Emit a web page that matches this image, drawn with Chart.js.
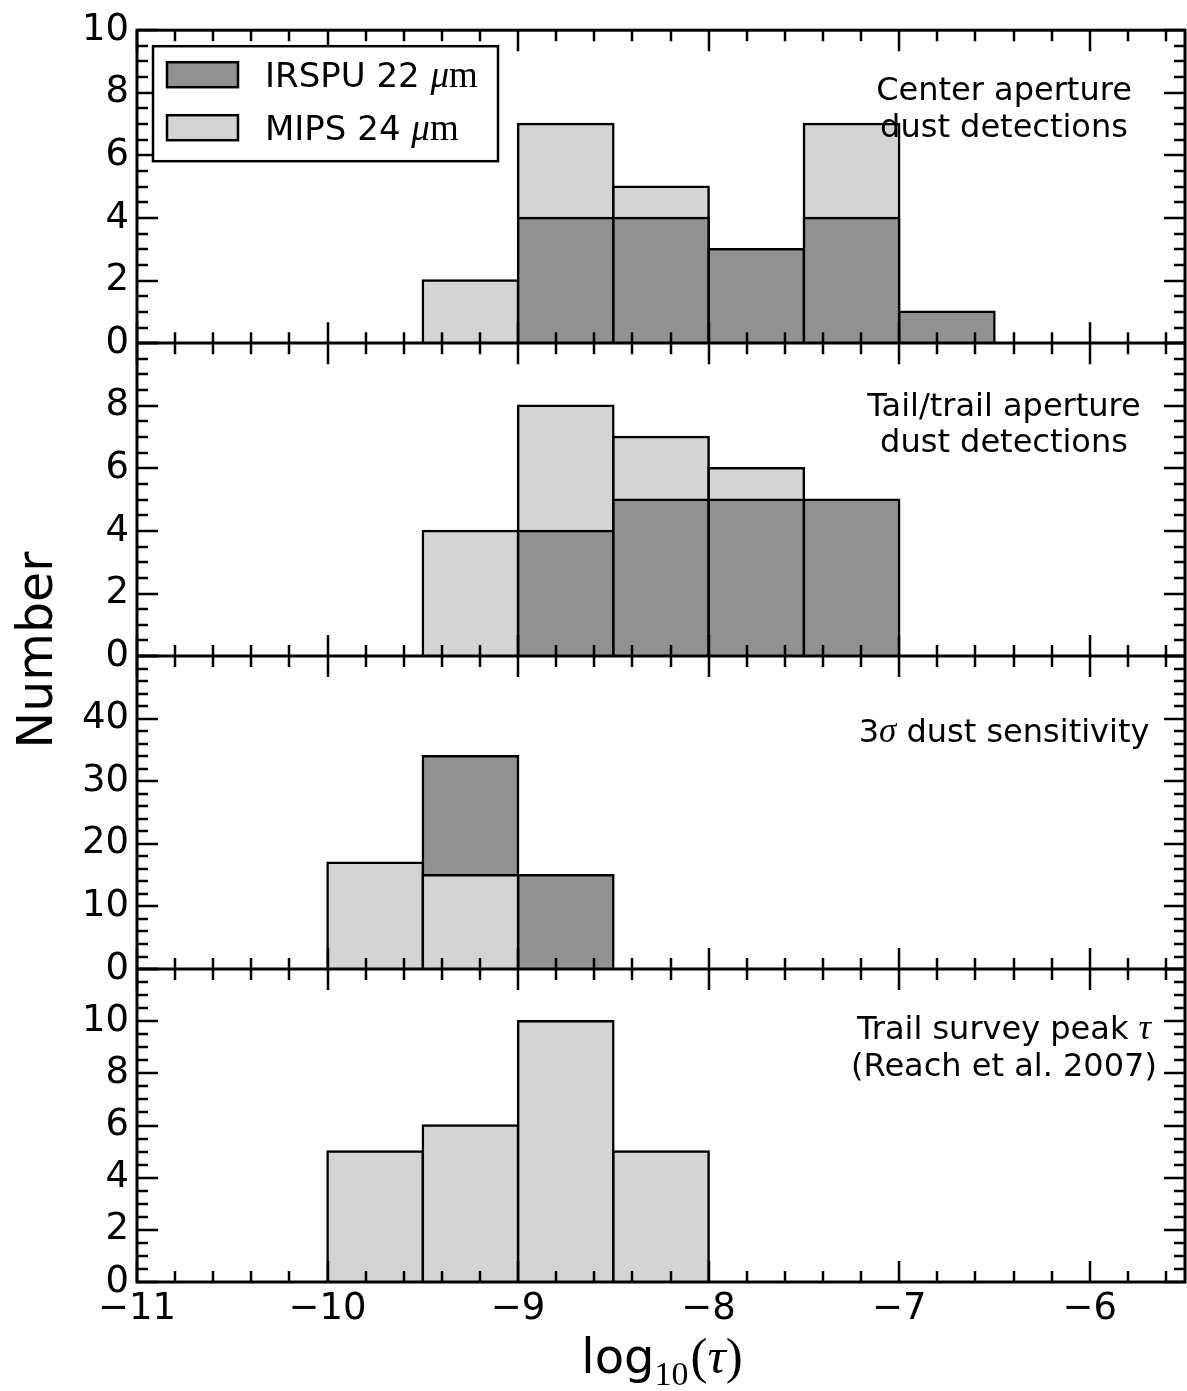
<!DOCTYPE html>
<html>
<head>
<meta charset="utf-8">
<script src="https://cdn.jsdelivr.net/npm/chart.js@4.4.1/dist/chart.umd.min.js"></script>
<style>
  html, body { margin: 0; padding: 0; background: #ffffff; }
  #wrap { position: relative; width: 1187px; height: 1391px; }
</style>
</head>
<body>
<div id="wrap"><canvas id="c" width="1187" height="1391"></canvas></div>
<script>
// ---------------- DATA ----------------
const binCenters   = [-9.75, -9.25, -8.75, -8.25, -7.75, -7.25, -6.75];
const centerIRSPU  = [null, null, 4, 4, 3, 4, 1];
const centerMIPS   = [null, 2, 7, 5, null, 7, null];
const tailIRSPU    = [null, null, 4, 5, 5, 5, null];
const tailMIPS     = [null, 4, 8, 7, 6, null, null];
const sensIRSPU    = [null, 34, 15, null, null, null, null];
const sensMIPS     = [17, 15, null, null, null, null, null];
const surveyMIPS   = [5, 6, 10, 5, null, null, null];
const seriesNames  = ['IRSPU 22 μm', 'MIPS 24 μm'];
const xRange       = [-11, -5.5];
const panelYMax    = [10, 10, 50, 12];
const panelYStep   = [2, 2, 10, 2];
const panelYMinor  = [0.5, 0.5, 2, 0.5];

// ---------------- STYLE ----------------
const DARK = '#919191';
const LIGHT = '#d4d4d4';
const SANS = '"DejaVu Sans"';
const SERIF = '"Liberation Serif"';
Chart.defaults.font.family = SANS;
Chart.defaults.color = '#000';

function toPoints(vals) {
  const out = [];
  vals.forEach((v, i) => { if (v !== null) out.push({x: binCenters[i], y: v}); });
  return out;
}
function fmt(v) { return v < 0 ? '\u2212' + Math.abs(v) : String(v); }

const barCommon = {
  grouped: false,
  categoryPercentage: 1,
  barPercentage: 1,
  borderColor: '#000',
  borderWidth: 2.5,
  inflateAmount: 1.25,
  borderSkipped: 'start',
  xAxisID: 'x'
};

const datasets = [
  Object.assign({}, barCommon, {label: seriesNames[0], data: toPoints(centerIRSPU), backgroundColor: DARK, yAxisID: 'yA', order: 0}),
  Object.assign({}, barCommon, {label: seriesNames[1], data: toPoints(centerMIPS), backgroundColor: LIGHT, yAxisID: 'yA', order: 1}),
  Object.assign({}, barCommon, {label: seriesNames[0], data: toPoints(tailIRSPU), backgroundColor: DARK, yAxisID: 'yB', order: 0}),
  Object.assign({}, barCommon, {label: seriesNames[1], data: toPoints(tailMIPS), backgroundColor: LIGHT, yAxisID: 'yB', order: 1}),
  Object.assign({}, barCommon, {label: seriesNames[0], data: toPoints(sensIRSPU), backgroundColor: DARK, yAxisID: 'yC', order: 1}),
  Object.assign({}, barCommon, {label: seriesNames[1], data: toPoints(sensMIPS), backgroundColor: LIGHT, yAxisID: 'yC', order: 0}),
  Object.assign({}, barCommon, {label: seriesNames[1], data: toPoints(surveyMIPS), backgroundColor: LIGHT, yAxisID: 'yD', order: 1})
];

function yScale(idx, hideTop) {
  const max = panelYMax[idx];
  return {
    type: 'linear', position: 'left', stack: 'panels', stackWeight: 1,
    min: 0, max: max, offset: false,
    grid: {display: false, drawTicks: false},
    border: {display: false},
    ticks: {
      stepSize: panelYStep[idx], autoSkip: false, padding: 8, color: '#000',
      font: {size: 37, family: SANS},
      callback: (v) => (hideTop && v === max) ? '' : String(v)
    },
    afterFit: (s) => { s.width = 137; }
  };
}

const panelIds = ['yA', 'yB', 'yC', 'yD'];

// panel annotation texts: runs of [text, fontKind]
const panelTexts = [
  {lines: [[['Center aperture', 's']], [['dust detections', 's']]], offs: [70, 107]},
  {lines: [[['Tail/trail aperture', 's']], [['dust detections', 's']]], offs: [73, 109]},
  {lines: [[['3', 's'], ['σ', 'mi'], [' dust sensitivity', 's']]], offs: [86]},
  {lines: [[['Trail survey peak ', 's'], ['τ', 'mi']], [['(Reach et al. 2007)', 's']]], offs: [70, 107]}
];

function fontFor(kind, size) {
  if (kind === 'mi') return 'italic ' + Math.round(size * 1.08) + 'px ' + SERIF;
  if (kind === 'mr') return Math.round(size * 1.08) + 'px ' + SERIF;
  return size + 'px ' + SANS;
}
function drawRuns(ctx, runs, x, y, size, align) {
  let total = 0;
  const widths = runs.map(r => { ctx.font = fontFor(r[1], size); const w = ctx.measureText(r[0]).width; total += w; return w; });
  let cx = align === 'left' ? x : x - total / 2;
  runs.forEach((r, i) => {
    ctx.font = fontFor(r[1], size);
    ctx.fillText(r[0], cx, y);
    cx += widths[i];
  });
}

const decor = {
  id: 'decor',
  afterDatasetsDraw(chart) {
    const ctx = chart.ctx;
    const xs = chart.scales.x;
    const ca = chart.chartArea;
    ctx.save();
    ctx.strokeStyle = '#000';
    ctx.fillStyle = '#000';
    ctx.lineCap = 'butt';
    const MAJ = 21, MIN = 11;

    panelIds.forEach((id, pi) => {
      const ys = chart.scales[id];
      const top = ys.top, bottom = ys.bottom;
      ctx.lineWidth = 2.5;
      // x ticks (top & bottom of each panel, pointing inward)
      for (let k = 0; ; k++) {
        const v = xRange[0] + k * 0.2;
        if (v > xs.max + 1e-9) break;
        const px = Math.round(xs.getPixelForValue(v));
        const major = Math.abs(v - Math.round(v)) < 1e-6;
        const L = major ? MAJ : MIN;
        ctx.beginPath();
        ctx.moveTo(px, top); ctx.lineTo(px, top + L);
        ctx.moveTo(px, bottom); ctx.lineTo(px, bottom - L);
        ctx.stroke();
      }
      // y ticks (left & right, pointing inward)
      const minor = panelYMinor[pi];
      for (let k = 0; ; k++) {
        const v = k * minor;
        if (v > ys.max + 1e-9) break;
        const py = Math.round(ys.getPixelForValue(v));
        const major = ys.ticks.some(t => Math.abs(t.value - v) < 1e-9);
        const L = major ? MAJ : MIN;
        ctx.beginPath();
        ctx.moveTo(ca.left, py); ctx.lineTo(ca.left + L, py);
        ctx.moveTo(ca.right, py); ctx.lineTo(ca.right - L, py);
        ctx.stroke();
      }
      // panel separator
      if (pi < panelIds.length - 1) {
        ctx.lineWidth = 3;
        ctx.beginPath();
        ctx.moveTo(ca.left, Math.round(bottom)); ctx.lineTo(ca.right, Math.round(bottom));
        ctx.stroke();
      }
      // annotation
      const t = panelTexts[pi];
      ctx.textBaseline = 'alphabetic';
      const cx = ca.left + 0.8273 * (ca.right - ca.left);
      t.lines.forEach((runs, li) => drawRuns(ctx, runs, cx, top + t.offs[li], 32, 'center'));
    });

    // frame
    ctx.lineWidth = 3;
    ctx.strokeRect(ca.left, ca.top, ca.right - ca.left, ca.bottom - ca.top);

    // legend (inside top panel)
    const lx = ca.left + 16, ly = ca.top + 16, lw = 345, lh = 115;
    ctx.fillStyle = '#fff';
    ctx.fillRect(lx, ly, lw, lh);
    ctx.lineWidth = 2.5;
    ctx.strokeRect(lx, ly, lw, lh);
    const items = [[DARK, seriesNames[0], 0], [LIGHT, seriesNames[1], 1]];
    items.forEach(([col, name], i) => {
      const py = ly + 16 + i * 53;
      ctx.fillStyle = col;
      ctx.fillRect(lx + 14, py, 71, 25);
      ctx.strokeRect(lx + 14, py, 71, 25);
      ctx.fillStyle = '#000';
      const parts = name.split(' μ');
      drawRuns(ctx, [[parts[0] + ' ', 's'], ['μ', 'mi'], [parts[1], 'mr']], lx + 112, py + 25, 34, 'left');
    });

    // y title
    ctx.save();
    ctx.translate(52, (ca.top + ca.bottom) / 2 - 6);
    ctx.rotate(-Math.PI / 2);
    ctx.font = '49px ' + SANS;
    ctx.textAlign = 'center';
    ctx.textBaseline = 'alphabetic';
    ctx.fillText('Number', 0, 0);
    ctx.restore();

    // x title: log10(τ)
    const bx = (ca.left + ca.right) / 2, by = 1373;
    const runs = [['log', 48, SANS, '', 0], ['10', 34, SERIF, '', 12], ['(', 51, SERIF, '', 0], ['τ', 51, SERIF, 'italic ', 0], [')', 51, SERIF, '', 0]];
    let tot = 0;
    const ws = runs.map(r => { ctx.font = r[3] + r[1] + 'px ' + r[2]; const w = ctx.measureText(r[0]).width; tot += w; return w; });
    let cx = bx - tot / 2;
    runs.forEach((r, i) => { ctx.font = r[3] + r[1] + 'px ' + r[2]; ctx.fillText(r[0], cx, by + r[4]); cx += ws[i] + (i === 1 ? 2 : 0); });

    ctx.restore();
  }
};

new Chart(document.getElementById('c'), {
  type: 'bar',
  data: { datasets: datasets },
  options: {
    responsive: false,
    animation: false,
    devicePixelRatio: 1,
    layout: { padding: { left: 0, right: 2, top: 30, bottom: 0 } },
    plugins: { legend: { display: false }, tooltip: { enabled: false } },
    scales: {
      x: {
        type: 'linear', position: 'bottom', min: xRange[0], max: xRange[1], offset: false,
        grid: { display: false, drawTicks: false },
        border: { display: false },
        ticks: { stepSize: 1, includeBounds: false, autoSkip: false, maxRotation: 0, padding: 5,
                 color: '#000', font: { size: 37, family: SANS }, callback: (v) => fmt(v) },
        afterFit: (s) => { s.height = 109; }
      },
      yD: yScale(3, true),
      yC: yScale(2, true),
      yB: yScale(1, true),
      yA: yScale(0, false)
    }
  },
  plugins: [decor]
});
</script>
</body>
</html>
